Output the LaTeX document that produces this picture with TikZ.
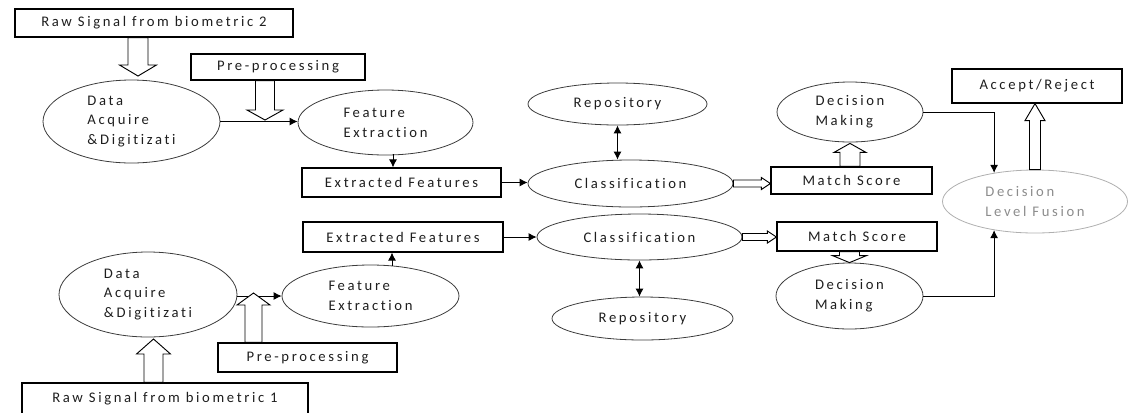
\documentclass[tikz,border=0pt]{standalone}
\usepackage{fontspec}
\setmainfont{Carlito}[LetterSpace=18,Ligatures=NoCommon]
\usetikzlibrary{shapes.geometric,arrows.meta,calc}
\definecolor{fusline}{RGB}{175,175,175}
\definecolor{fustext}{RGB}{140,140,140}
\definecolor{ellline}{RGB}{60,60,60}
\definecolor{txt}{RGB}{30,30,30}
\newcommand\lbl{\fontsize{11}{14.5}\selectfont}
\newcommand\lblb{\fontsize{11}{15}\selectfont}
\newcommand\hollowarr[5]{%
  \pgfmathsetmacro\hsA{#3*0.75}\pgfmathsetmacro\hwA{#4*0.75}\pgfmathsetmacro\hlA{#5*0.75}%
  \coordinate (hb) at ($(#2)!\hlA pt!(#1)$);%
  \draw[hollow] ($(#1)!\hsA pt!90:(#2)$) -- ($(hb)!\hsA pt!90:(#2)$) -- ($(hb)!\hwA pt!90:(#2)$) -- (#2) -- ($(hb)!\hwA pt!-90:(#2)$) -- ($(hb)!\hsA pt!-90:(#2)$) -- ($(#1)!\hsA pt!-90:(#2)$) -- cycle;}
\tikzset{
  sz/.style 2 args={minimum width=#1*0.75pt, minimum height=#2*0.75pt},
  box/.style={draw, line width=0.9pt, inner sep=0pt, font=\lbl, text=txt},
  ell/.style={draw=ellline, ellipse, line width=0.6pt, inner sep=0pt, font=\lbl, align=left, text=txt},
  fusst/.style={draw=fusline, text=fustext},
  hollow/.style={draw, line width=0.7pt, fill=white, line join=miter},
  conn/.style={-{Latex[length=6pt,width=6pt]}, line width=0.7pt},
  dconn/.style={{Latex[length=6pt,width=6pt]}-{Latex[length=6pt,width=6pt]}, line width=0.7pt},
}
\begin{document}
\begin{tikzpicture}[x=0.75pt,y=-0.75pt]
\useasboundingbox (0,0) rectangle (1129,412);
% nodes
\node[box, sz={278}{28}] (raw2) at (154,23) {Raw Signal from biometric 2};
\node[box, sz={174}{26}] (pre2) at (278,67) {Pre-processing};
\node[ell, sz={177}{83}] (da2) at (131.5,121.5) {Data\\Acquire\\\&Digitizati};
\node[ell, sz={175}{65}, font=\lblb] (fe2) at (385.5,122.5) {Feature\\Extraction};
\node[box, sz={199}{29}] (ef2) at (401.5,182.5) {Extracted Features};
\node[ell, sz={179}{42}] (rep2) at (617.5,104) {Repository};
\node[ell, sz={205}{47}] (cl2) at (630.5,183.5) {Classification};
\node[box, sz={161}{27}] (ms2) at (851.5,180.5) {Match Score};
\node[ell, sz={146}{60}, font=\lblb] (dm2) at (850,112) {Decision\\Making};
\node[box, sz={170}{34}] (acc) at (1037,86) {Accept/Reject};
\node[ell, fusst, sz={185}{63}, font=\lblb] (fus) at (1035,201.5) {Decision\\Level Fusion};
\node[box, sz={200}{30}] (ef1) at (403,237) {Extracted Features};
\node[ell, sz={205}{46}] (cl1) at (639.5,237) {Classification};
\node[box, sz={160}{29}] (ms1) at (857,236.5) {Match Score};
\node[ell, sz={147}{66}, font=\lblb] (dm1) at (849.5,296) {Decision\\Making};
\node[ell, sz={181}{43}] (rep1) at (642.5,318.5) {Repository};
\node[ell, sz={178}{85}] (da1) at (148,294.5) {Data\\Acquire\\\&Digitizati};
\node[ell, sz={177}{62}, font=\lblb] (fe1) at (370.5,296) {Feature\\Extraction};
\node[box, sz={179}{29}] (pre1) at (307.5,357.5) {Pre-processing};
\node[box, sz={286}{31}] (raw1) at (165,398.5) {Raw Signal from biometric 1};
% plain connectors
\draw[conn] (da2.east) -- (da2.east -| fe2.west);
\coordinate (fe2b) at ($(fe2.south)+(7.5,-1)$);
\draw[conn] (fe2b) -- (fe2b |- ef2.north);
\draw[conn] (ef2.east) -- (ef2.east -| cl2.west);
\draw[dconn] (rep2.south) -- (rep2.south |- cl2.north);
\draw[conn] (dm2.east) -| (fus.145);
\draw[conn] (dm1.east) -| (fus.215);
\draw[conn] (ef1.east) -- (ef1.east -| cl1.west);
\draw[dconn] (cl1.south) -- (cl1.south |- rep1.north);
\coordinate (fe1t) at ($(fe1.north)+(21.5,1)$);
\draw[conn] (fe1t) -- (fe1t |- ef1.south);
\draw[conn] (da1.east |- fe1.west) -- (fe1.west);
% hollow block arrows
\coordinate (t2) at (138,76); \coordinate (s2) at (raw2.south -| t2);
\hollowarr{s2}{t2}{10}{18.5}{11}
\coordinate (j2) at (265,120); \coordinate (sj2) at (pre2.south -| j2);
\hollowarr{sj2}{j2}{9.5}{18}{10}
\coordinate (t1) at (153.5,339); \coordinate (s1) at (raw1.north -| t1);
\hollowarr{s1}{t1}{9.5}{17}{15}
\coordinate (j1) at (253.5,293); \coordinate (sj1) at (pre1.north -| j1);
\hollowarr{sj1}{j1}{8.5}{16.5}{12}
\coordinate (c2e) at (cl2.east); \coordinate (m2w) at (cl2.east -| ms2.west);
\hollowarr{c2e}{m2w}{3.5}{6}{9}
\coordinate (c1e) at (cl1.east); \coordinate (m1w) at (cl1.east -| ms1.west);
\hollowarr{c1e}{m1w}{3.5}{6}{9}
\coordinate (m2n) at (dm2.south |- ms2.north); \coordinate (d2s) at ($(dm2.south)+(0,1)$);
\hollowarr{m2n}{d2s}{10}{16}{9}
\coordinate (m1s) at (dm1.north |- ms1.south); \coordinate (d1n) at (dm1.north);
\hollowarr{m1s}{d1n}{10}{17}{7}
\coordinate (fn) at (fus.north); \coordinate (an) at (fus.north |- acc.south);
\hollowarr{fn}{an}{5.5}{10}{17}
\end{tikzpicture}
\end{document}
